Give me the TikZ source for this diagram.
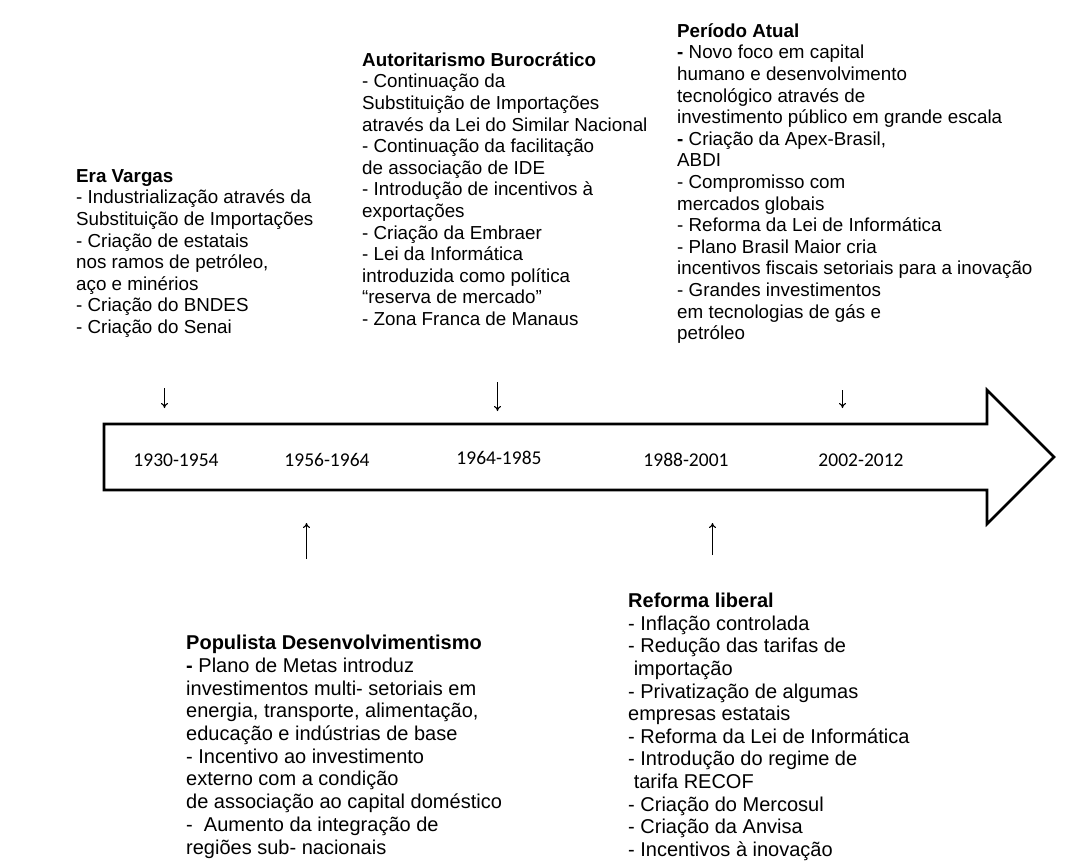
\documentclass[tikz,border=0pt]{standalone}
\usepackage{fontspec}
\setmainfont{Liberation Sans}
\newfontfamily\yearfont{Carlito}
\usetikzlibrary{arrows.meta}
\newcommand\blkstrut{\rule{0pt}{14pt}}
\begin{document}
\begin{tikzpicture}[x=1pt,y=-1pt,
  topblock/.style={anchor=north west, inner sep=0pt, align=left, font=\fontsize{18.8}{21.6}\selectfont},
  botblockA/.style={anchor=north west, inner sep=0pt, align=left, font=\fontsize{20}{22.7}\selectfont},
  botblockB/.style={anchor=north west, inner sep=0pt, align=left, font=\fontsize{20}{22.6}\selectfont},
  yearlabel/.style={inner sep=0pt, font=\yearfont\fontsize{19.5}{22}\selectfont},
  pointer/.style={-{To[length=5pt,width=7pt]}, line width=1.1pt},
  timeline/.style={line width=2.6pt, line join=miter}]
\useasboundingbox (0,0) rectangle (1080,863);
\fill[white] (0,0) rectangle (1080,863);

% timeline arrow
\coordinate (tl) at (104,424);
\coordinate (tr) at (987,424);
\coordinate (ht) at (987,390);
\coordinate (tip) at (1054,457);
\coordinate (hb) at (987,524);
\coordinate (br) at (987,490);
\coordinate (bl) at (104,490);
\draw[timeline] (tl) -- (tr) -- (ht) -- (tip) -- (hb) -- (br) -- (bl) -- cycle;

% years
\node[yearlabel] (y1) at (176,460) {1930-1954};
\node[yearlabel] (y2) at (327,460) {1956-1964};
\node[yearlabel] (y3) at (499,458) {1964-1985};
\node[yearlabel] (y4) at (686,460) {1988-2001};
\node[yearlabel] (y5) at (861,460) {2002-2012};

% text blocks
\node[topblock] (era) at (76,168) {\blkstrut\textbf{Era Vargas}\\
- Industrialização através da\\
Substituição de Importações\\
- Criação de estatais\\
nos ramos de petróleo,\\
aço e minérios\\
- Criação do BNDES\\
- Criação do Senai};

\node[topblock] (auto) at (362,52) {\blkstrut\textbf{Autoritarismo Burocrático}\\
- Continuação da\\
Substituição de Importações\\
através da Lei do Similar Nacional\\
- Continuação da facilitação\\
de associação de IDE\\
- Introdução de incentivos à\\
exportações\\
- Criação da Embraer\\
- Lei da Informática\\
introduzida como política\\
“reserva de mercado”\\
- Zona Franca de Manaus};

\node[topblock] (atual) at (677,23) {\blkstrut\textbf{Período Atual}\\
\textbf{-} Novo foco em capital\\
humano e desenvolvimento\\
tecnológico através de\\
investimento público em grande escala\\
\textbf{-} Criação da Apex-Brasil,\\
ABDI\\
- Compromisso com\\
mercados globais\\
- Reforma da Lei de Informática\\
- Plano Brasil Maior cria\\
incentivos fiscais setoriais para a inovação\\
- Grandes investimentos\\
em tecnologias de gás e\\
petróleo};

\node[botblockA] (popul) at (186,635) {\blkstrut\textbf{Populista Desenvolvimentismo}\\
\textbf{-} Plano de Metas introduz\\
investimentos multi- setoriais em\\
energia, transporte, alimentação,\\
educação e indústrias de base\\
- Incentivo ao investimento\\
externo com a condição\\
de associação ao capital doméstico\\
-\ \ Aumento da integração de\\
regiões sub- nacionais};

\node[botblockB] (reforma) at (628,593) {\blkstrut\textbf{Reforma liberal}\\
- Inflação controlada\\
- Redução das tarifas de\\
\ importação\\
- Privatização de algumas\\
empresas estatais\\
- Reforma da Lei de Informática\\
- Introdução do regime de\\
\ tarifa RECOF\\
- Criação do Mercosul\\
- Criação da Anvisa\\
- Incentivos à inovação};

% pointers
\coordinate (p1s) at (164.5,388);
\coordinate (p1e) at (164.5,408);
\coordinate (p3s) at (497.5,382);
\coordinate (p3e) at (497.5,411);
\coordinate (p5s) at (842.5,390);
\coordinate (p5e) at (842.5,408);
\coordinate (p2s) at (306.5,559);
\coordinate (p2e) at (306.5,523);
\coordinate (p4s) at (712.5,555);
\coordinate (p4e) at (712.5,523);
\draw[pointer] (p1s) -- (p1e);
\draw[pointer] (p3s) -- (p3e);
\draw[pointer] (p5s) -- (p5e);
\draw[pointer] (p2s) -- (p2e);
\draw[pointer] (p4s) -- (p4e);
\end{tikzpicture}
\end{document}
